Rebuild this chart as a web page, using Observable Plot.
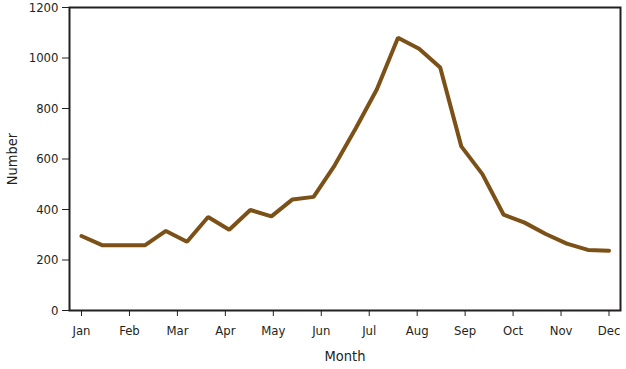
<!DOCTYPE html>
<html><head><meta charset="utf-8">
<script src="https://cdn.jsdelivr.net/npm/d3@7"></script>
<script src="https://cdn.jsdelivr.net/npm/@observablehq/plot@0.6"></script>
<style>
body{margin:0;background:#fff;}
svg{font-family:"DejaVu Sans",sans-serif;font-stretch:condensed;}
g[aria-label="x-axis label"] text, g[aria-label="y-axis label"] text{font-size:14.5px;}
</style></head>
<body><div id="chart"></div>
<script>
const months = ["Jan","Feb","Mar","Apr","May","Jun","Jul","Aug","Sep","Oct","Nov","Dec"];
const period = d3.range(26); // biweekly periods
const counts = [295,258,258,258,315,272,370,320,398,373,440,450,575,722,876,1080,1037,962,650,540,380,348,303,265,240,237];
const yTicks = [0,200,400,600,800,1000,1200];

const data = period.map((p,i)=>({p, v: counts[i]}));
const monthTicks = months.map((m,i)=> i*25/11);

const plot = Plot.plot({
  width: 626, height: 369,
  marginLeft: 69, marginRight: 6, marginTop: 7, marginBottom: 59,
  style: {fontSize: "13px", color: "#231f20"},
  x: {domain: [0,25], insetLeft: 12, insetRight: 11.5, ticks: monthTicks, tickFormat: (d,i)=>months[i], tickSize: 6, tickPadding: 9,
      label: "Month", labelAnchor: "center", labelOffset: 50, labelArrow: "none"},
  y: {domain: [0,1200], ticks: yTicks, tickFormat: "d", tickSize: 7, tickPadding: 4,
      label: "Number", labelAnchor: "center", labelOffset: 63, labelArrow: "none"},
  marks: [
    Plot.frame({stroke: "#231f20", strokeWidth: 2}),
    Plot.line(data, {x: "p", y: "v", stroke: "#7b5117", strokeWidth: 4, strokeLinejoin: "miter"})
  ]
});
document.getElementById("chart").appendChild(plot);
</script></body></html>
